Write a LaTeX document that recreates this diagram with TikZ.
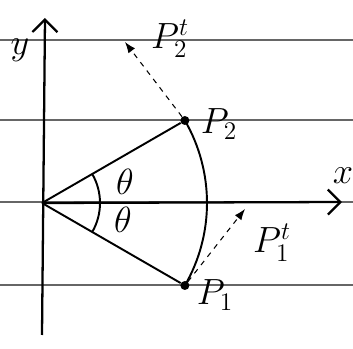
\documentclass[tikz,border=0pt]{standalone}
\usetikzlibrary{arrows.meta,positioning,calc}
\tikzset{
  axis/.style={-{Straight Barb[length=2.5mm]}, line width=1.3pt},
  radiusline/.style={line width=1.1pt},
  tangent/.style={-{Latex[length=2.2mm]}, dashed, semithick},
  ruled/.style={black!60, line width=0.9pt},
  pdot/.style={circle, fill=black, inner sep=0pt, minimum size=1.8mm},
  lbl/.style={font=\huge}
}
\begin{document}
\begin{tikzpicture}[x=0.02cm, y=0.02cm]
  \useasboundingbox (0,0) rectangle (353,349);
  % ruled paper
  \foreach \yy in {309,229,147,64} \draw[ruled] (0,\yy) -- (353,\yy);
  \coordinate (o) at (42,146);
  \coordinate (xend) at (342,147);
  \coordinate (ytop) at (45,331);
  \coordinate (ybot) at (42,14);
  \draw[axis] (o) -- (xend);
  \draw[axis] (ybot) -- (ytop);
  \node[lbl] (xl) at (343,173) {$x$};
  \node[lbl] (yl) at (20,299) {$y$};
  \node[pdot] (p2) at ($(o)+(30:165)$) {};
  \node[pdot] (p1) at ($(o)+(-30:165)$) {};
  \draw[radiusline] (o) -- (p2);
  \draw[radiusline] (o) -- (p1);
  \draw[radiusline] (p2.center) arc[start angle=30, end angle=-30, radius=165];
  \draw[radiusline] ($(o)+(30:58)$) arc[start angle=30, end angle=-30, radius=58];
  \node[lbl] (th1) at (125,167) {$\theta$};
  \node[lbl] (th2) at (123,129) {$\theta$};
  \node[lbl] (p2l) at (219,225) {$P_2$};
  \node[lbl] (p1l) at (215,54) {$P_1$};
  % tangent vectors
  \coordinate (p2t) at (125,307);
  \coordinate (p1t) at (245,140);
  \draw[tangent] (p2) -- (p2t);
  \draw[tangent] (p1) -- (p1t);
  \node[lbl] (p2tl) at (170,310) {$P_2^t$};
  \node[lbl] (p1tl) at (272,106) {$P_1^t$};
\end{tikzpicture}
\end{document}
